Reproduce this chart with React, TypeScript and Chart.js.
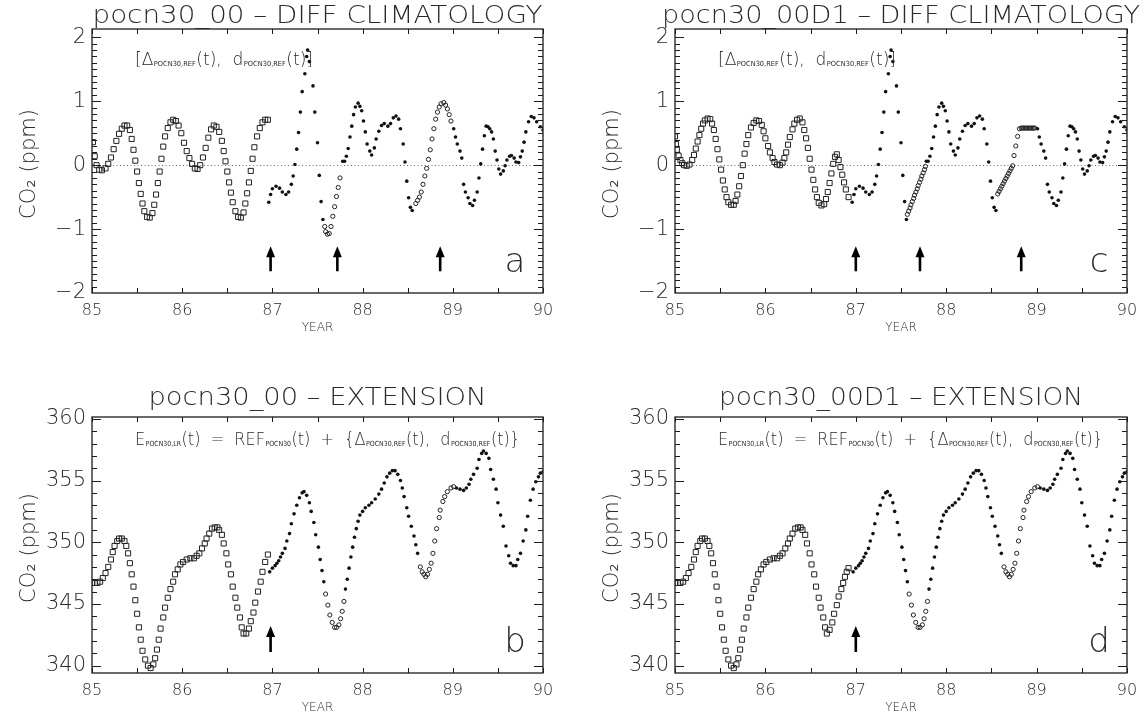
import React, { useEffect, useRef } from "react";
import { Chart, registerables } from "chart.js";
Chart.register(...registerables);

// ---------------- DATA ----------------
// x tick positions / labels
const xTickYears = [85, 85.5, 86, 86.5, 87, 87.5, 88, 88.5, 89, 89.5, 90];
const xLabelYears = [85, 86, 87, 88, 89, 90];
const diffMajorTicks = [-2, -1, 0, 1, 2];
const extMajorTicks = [340, 345, 350, 355, 360];

// Panel a : climatology (squares)
const aSquareYear = [85.01,85.03,85.05,85.08,85.11,85.15,85.18,85.21,85.24,85.27,85.30,85.33,85.36,85.39,85.42,85.44,85.46,85.48,85.50,85.52,85.54,85.56,85.58,85.61,85.64,85.67,85.69,85.71,85.73,85.75,85.77,85.79,85.81,85.84,85.87,85.90,85.93,85.96,85.99,86.02,86.05,86.08,86.11,86.14,86.17,86.20,86.23,86.26,86.29,86.32,86.35,86.38,86.41,86.44,86.46,86.48,86.50,86.52,86.54,86.56,86.59,86.62,86.65,86.68,86.70,86.72,86.74,86.76,86.78,86.80,86.83,86.86,86.89,86.92,86.95];
const aSquareVal = [0.36,0.14,0.0,-0.07,-0.08,-0.05,0.02,0.12,0.25,0.38,0.49,0.57,0.62,0.62,0.55,0.41,0.24,0.07,-0.1,-0.28,-0.45,-0.6,-0.72,-0.81,-0.82,-0.75,-0.62,-0.46,-0.28,-0.1,0.1,0.29,0.45,0.58,0.67,0.71,0.69,0.62,0.5,0.35,0.22,0.11,0.02,-0.05,-0.06,0.0,0.12,0.27,0.43,0.56,0.62,0.6,0.52,0.38,0.22,0.06,-0.1,-0.27,-0.43,-0.58,-0.72,-0.81,-0.82,-0.74,-0.6,-0.44,-0.27,-0.09,0.1,0.28,0.45,0.58,0.67,0.71,0.71];

// Panel c : climatology (squares)
const cSquareYear = [85.00,85.01,85.02,85.04,85.06,85.08,85.10,85.13,85.16,85.19,85.21,85.23,85.25,85.27,85.29,85.31,85.33,85.36,85.39,85.41,85.43,85.45,85.47,85.49,85.51,85.53,85.55,85.57,85.59,85.62,85.65,85.67,85.69,85.71,85.73,85.75,85.77,85.79,85.81,85.84,85.87,85.90,85.93,85.96,85.98,86.00,86.03,86.05,86.08,86.10,86.13,86.16,86.19,86.21,86.23,86.25,86.27,86.30,86.32,86.35,86.38,86.41,86.43,86.45,86.47,86.49,86.51,86.53,86.55,86.57,86.59,86.62,86.65,86.67,86.69,86.71,86.73,86.75,86.77,86.79,86.81,86.83,86.85,86.87,86.89,86.92];
const cSquareVal = [0.45,0.33,0.24,0.15,0.08,0.03,0.0,-0.01,0.01,0.08,0.16,0.26,0.37,0.47,0.57,0.65,0.70,0.73,0.72,0.65,0.55,0.41,0.25,0.09,-0.07,-0.24,-0.38,-0.50,-0.58,-0.62,-0.62,-0.56,-0.46,-0.33,-0.17,0.0,0.18,0.33,0.47,0.59,0.66,0.70,0.69,0.63,0.53,0.42,0.30,0.20,0.11,0.05,0.01,0.0,0.04,0.11,0.20,0.32,0.44,0.56,0.65,0.71,0.73,0.67,0.55,0.42,0.27,0.10,-0.07,-0.23,-0.38,-0.50,-0.59,-0.63,-0.61,-0.53,-0.42,-0.28,-0.13,0.02,0.13,0.17,0.08,-0.03,-0.15,-0.27,-0.38,-0.50];

// Panels a & c : observed differences (filled dots)
const diffDotYear = [86.96,86.98,87.00,87.04,87.08,87.11,87.15,87.18,87.21,87.23,87.25,87.27,87.29,87.31,87.33,87.36,87.38,87.39,87.41,87.45,87.47,87.50,87.52,87.54,87.56,
  87.78,87.80,87.82,87.84,87.86,87.88,87.90,87.92,87.95,87.97,87.99,88.01,88.03,88.05,88.08,88.10,88.13,88.15,88.18,88.21,88.24,88.28,88.31,88.34,88.37,88.40,88.42,88.45,88.47,88.49,88.51,88.53,88.55,
  89.01,89.03,89.05,89.08,89.10,89.12,89.14,89.17,89.19,89.22,89.24,89.27,89.29,89.31,89.33,89.35,89.37,89.39,89.41,89.43,89.45,89.47,89.49,89.51,89.53,89.56,89.58,89.60,89.63,89.65,89.68,89.70,89.73,89.75,89.77,89.79,89.81,89.84,89.87,89.90,89.93,89.97,90.00];
const diffDotVal = [-0.58,-0.46,-0.37,-0.33,-0.36,-0.42,-0.46,-0.42,-0.30,-0.17,0.01,0.25,0.51,0.83,1.15,1.43,1.70,1.80,1.62,1.24,0.83,0.35,-0.16,-0.57,-0.85,
  0.06,0.06,0.14,0.26,0.44,0.61,0.79,0.91,0.97,0.92,0.85,0.69,0.52,0.33,0.22,0.16,0.27,0.41,0.53,0.62,0.65,0.61,0.65,0.74,0.77,0.72,0.57,0.33,0.05,-0.25,-0.51,-0.66,-0.71,
  0.57,0.44,0.33,0.22,0.11,-0.30,-0.42,-0.51,-0.60,-0.63,-0.55,-0.42,-0.20,0.02,0.25,0.46,0.61,0.60,0.57,0.52,0.41,0.22,0.08,-0.06,-0.14,-0.09,-0.01,0.08,0.14,0.15,0.11,0.05,0.04,0.13,0.22,0.36,0.52,0.68,0.76,0.74,0.68,0.60,0.55];

// Panel a : filled gaps (open circles)
const aCircleYear = [87.58,87.59,87.61,87.63,87.65,87.67,87.69,87.71,87.73,87.75,
  88.59,88.61,88.63,88.65,88.67,88.69,88.71,88.73,88.75,88.77,88.79,88.81,88.83,88.85,88.87,88.90,88.92,88.94,88.96,88.98];
const aCircleVal = [-0.96,-1.04,-1.08,-1.07,-0.96,-0.80,-0.65,-0.49,-0.35,-0.20,
  -0.60,-0.55,-0.50,-0.42,-0.30,-0.17,-0.05,0.09,0.24,0.41,0.57,0.72,0.83,0.91,0.96,0.98,0.94,0.88,0.79,0.69];

// Panel c : filled gaps (open circles)
const cCircleYear = [87.57,87.585,87.60,87.61,87.625,87.64,87.65,87.665,87.68,87.69,87.705,87.72,87.73,87.745,87.76,87.77,
  88.57,88.585,88.60,88.615,88.63,88.645,88.66,88.675,88.69,88.705,88.72,88.735,88.75,88.77,88.79,88.81,88.83,88.845,88.86,88.875,88.89,88.905,88.92,88.935,88.95,88.965,88.98];
const cCircleVal = [-0.77,-0.72,-0.67,-0.62,-0.57,-0.52,-0.47,-0.42,-0.37,-0.32,-0.27,-0.22,-0.17,-0.12,-0.07,-0.02,
  -0.45,-0.41,-0.37,-0.33,-0.29,-0.25,-0.21,-0.17,-0.13,-0.09,-0.05,-0.01,0.15,0.30,0.45,0.57,0.58,0.58,0.58,0.58,0.58,0.58,0.58,0.58,0.58,0.58,0.58];

// Panel b : reference + climatology (squares)
const bSquareYear = [85.00,85.03,85.06,85.09,85.12,85.15,85.18,85.21,85.23,85.25,85.28,85.30,85.33,85.36,85.38,85.40,85.42,85.44,85.46,85.48,85.50,85.52,85.54,85.56,85.59,85.62,85.65,85.68,85.70,85.72,85.74,85.76,85.79,85.81,85.84,85.87,85.90,85.92,85.95,85.98,86.01,86.05,86.09,86.13,86.16,86.19,86.22,86.25,86.27,86.30,86.33,86.36,86.39,86.41,86.44,86.46,86.49,86.51,86.54,86.56,86.59,86.61,86.64,86.66,86.68,86.71,86.74,86.76,86.79,86.81,86.84,86.87,86.89,86.92,86.95];
const bSquareVal = [346.7,346.7,346.7,346.8,347.1,347.5,348.0,348.6,349.2,349.7,350.1,350.3,350.3,350.1,349.7,349.1,348.3,347.4,346.4,345.3,344.2,343.1,342.1,341.2,340.5,340.0,339.8,340.1,340.6,341.3,342.1,343.0,343.9,344.7,345.5,346.2,346.8,347.4,347.8,348.2,348.4,348.6,348.7,348.7,348.9,349.1,349.5,349.9,350.3,350.7,351.1,351.2,351.2,351.0,350.6,349.9,349.1,348.2,347.4,346.4,345.5,344.7,343.9,343.1,342.6,342.6,343.0,343.6,344.3,345.1,346.0,346.8,347.6,348.4,349.0];

// Panel d : last months of squares differ from panel b
const dSquareTailYear = [86.71,86.74,86.76,86.79,86.81,86.84,86.86,86.88,86.90,86.92];
const dSquareTailVal = [342.9,343.5,344.2,344.9,345.6,346.2,346.7,347.2,347.6,347.9];

// Panels b & d : extension with observed differences (dots)
const extDotYear = [86.97,87.00,87.03,87.05,87.07,87.09,87.11,87.14,87.16,87.19,87.21,87.24,87.27,87.30,87.33,87.35,87.38,87.41,87.43,87.46,87.48,87.51,87.53,87.55,87.57,
  87.81,87.83,87.85,87.87,87.89,87.91,87.93,87.95,87.97,88.00,88.03,88.07,88.10,88.14,88.18,88.21,88.24,88.27,88.30,88.33,88.36,88.39,88.42,88.44,88.46,88.49,88.51,88.54,88.57,88.59,88.61,
  89.04,89.08,89.12,89.15,89.18,89.20,89.23,89.27,89.29,89.32,89.34,89.37,89.40,89.42,89.45,89.48,89.50,89.53,89.56,89.59,89.62,89.64,89.67,89.70,89.72,89.75,89.78,89.81,89.83,89.86,89.89,89.92,89.95,89.97,90.00];
const extDotVal = [347.6,347.9,348.1,348.3,348.5,348.8,349.1,349.5,350.1,350.7,351.5,352.3,353.0,353.6,354.0,354.1,353.8,353.2,352.5,351.6,350.6,349.6,348.6,347.7,346.8,
  346.2,347.0,347.9,348.8,349.6,350.4,351.1,351.7,352.2,352.5,352.8,353.0,353.2,353.5,353.9,354.3,354.8,355.3,355.6,355.8,355.8,355.5,355.0,354.4,353.7,352.8,352.1,351.3,350.5,349.8,349.1,
  354.4,354.3,354.2,354.4,354.7,355.1,355.5,356.0,356.7,357.2,357.4,357.2,356.8,355.9,355.1,354.3,353.2,352.2,351.3,349.7,348.9,348.3,348.1,348.1,348.6,349.1,350.1,351.0,352.1,353.4,354.3,354.9,355.3,355.6,355.7];

// Panels b & d : extension over gaps (open circles)
const extCircleYear = [87.59,87.615,87.637,87.663,87.689,87.711,87.737,87.756,87.774,87.793,
  88.64,88.66,88.68,88.70,88.72,88.74,88.76,88.78,88.80,88.82,88.85,88.86,88.89,88.91,88.94,88.98,89.01];
const extCircleVal = [345.8,344.9,344.1,343.5,343.1,343.1,343.3,343.8,344.4,345.2,
  348.0,347.6,347.4,347.2,347.4,347.8,348.3,349.1,350.1,351.1,352.0,352.6,353.3,353.7,354.1,354.4,354.5];

// Arrow years (annotations)
const aArrowYears = [86.98, 87.72, 88.86];
const cArrowYears = [87.0, 87.71, 88.83];
const bArrowYears = [86.98];
const dArrowYears = [87.0];

// ---------------- RENDERING ----------------
const FONT = "'DejaVu Sans', 'Liberation Sans', sans-serif";
const INK = "#1c1c1c";
const TEXT = "#2a2a2a";

function pts(t: number[], v: number[]) {
  const n = Math.min(t.length, v.length);
  const out: { x: number; y: number }[] = [];
  for (let i = 0; i < n; i++) out.push({ x: t[i], y: v[i] });
  return out;
}

type Part = { s: string; sub?: boolean };

function drawRich(ctx: CanvasRenderingContext2D, parts: Part[], x: number, baseline: number, width: number, main: number, sub: number) {
  ctx.save();
  const fMain = `200 ${main}px ${FONT}`;
  const fSub = `400 ${sub}px ${FONT}`;
  let total = 0;
  const ws = parts.map((p) => {
    ctx.font = p.sub ? fSub : fMain;
    const w = ctx.measureText(p.s).width + (p.sub ? 1 : 0);
    total += w;
    return w;
  });
  const k = width / total;
  ctx.translate(x, baseline);
  ctx.scale(k, 1);
  ctx.fillStyle = TEXT;
  ctx.textBaseline = "alphabetic";
  ctx.textAlign = "left";
  let cx = 0;
  parts.forEach((p, i) => {
    ctx.font = p.sub ? fSub : fMain;
    ctx.fillText(p.s, cx + (p.sub ? 0.5 : 0), p.sub ? 1 : 0);
    cx += ws[i];
  });
  ctx.restore();
}

function fitText(ctx: CanvasRenderingContext2D, text: string, cx: number, baseline: number, width: number, font: string) {
  ctx.save();
  ctx.font = font;
  const w = ctx.measureText(text).width;
  ctx.translate(cx, baseline);
  ctx.scale(width / w, 1);
  ctx.textAlign = "center";
  ctx.textBaseline = "alphabetic";
  ctx.fillStyle = TEXT;
  ctx.fillText(text, 0, 0);
  ctx.restore();
}

const diffAnno: Part[] = [
  { s: "[Δ" }, { s: "POCN30,REF", sub: true }, { s: "(t),  d" }, { s: "POCN30,REF", sub: true }, { s: "(t)]" },
];
const extAnno: Part[] = [
  { s: "E" }, { s: "POCN30,LR", sub: true }, { s: "(t)  =  REF" }, { s: "POCN30", sub: true }, { s: "(t)  +  {Δ" },
  { s: "POCN30,REF", sub: true }, { s: "(t),  d" }, { s: "POCN30,REF", sub: true }, { s: "(t)}" },
];

type Cfg = {
  title: string;
  titleWidth: number;
  titleBaseline: number;
  kind: "diff" | "ext";
  letter: string;
  arrows: number[];
  arrowFrom: number;
  arrowTo: number;
  anno: Part[];
  annoWidth: number;
};

function makeDecor(cfg: Cfg) {
  return {
    id: "decor",
    beforeDatasetsDraw(chart: any) {
      if (cfg.kind !== "diff") return;
      const { ctx, chartArea: a, scales } = chart;
      const y = Math.round(scales.y.getPixelForValue(0)) + 0.5;
      ctx.save();
      ctx.strokeStyle = "#666";
      ctx.lineWidth = 1;
      ctx.setLineDash([1, 2.5]);
      ctx.beginPath();
      ctx.moveTo(a.left, y);
      ctx.lineTo(a.right, y);
      ctx.stroke();
      ctx.restore();
    },
    afterDraw(chart: any) {
      const { ctx, chartArea: a, scales } = chart;
      const xs = scales.x;
      const ys = scales.y;
      ctx.save();
      // frame
      ctx.strokeStyle = INK;
      ctx.lineWidth = 1.3;
      ctx.strokeRect(a.left, a.top, a.right - a.left, a.bottom - a.top);
      ctx.lineWidth = 1;
      // x ticks (inward, top and bottom)
      ctx.beginPath();
      xTickYears.forEach((t) => {
        const px = Math.round(xs.getPixelForValue(t)) + 0.5;
        ctx.moveTo(px, a.bottom);
        ctx.lineTo(px, a.bottom - 5);
        ctx.moveTo(px, a.top);
        ctx.lineTo(px, a.top + 5);
      });
      // y ticks
      const majors = cfg.kind === "diff" ? diffMajorTicks : extMajorTicks;
      const minorStep = cfg.kind === "diff" ? 0.1 : 1;
      const lo = majors[0];
      const hi = majors[majors.length - 1];
      const nMinor = Math.round((hi - lo) / minorStep);
      for (let i = 0; i <= nMinor; i++) {
        const v = lo + i * minorStep;
        const isMajor = majors.some((m) => Math.abs(m - v) < 1e-6);
        const len = isMajor ? 9 : 5;
        const py = Math.round(ys.getPixelForValue(v)) + 0.5;
        if (py < a.top || py > a.bottom) continue;
        ctx.moveTo(a.left, py);
        ctx.lineTo(a.left + len, py);
        ctx.moveTo(a.right, py);
        ctx.lineTo(a.right - len, py);
      }
      ctx.stroke();

      // tick labels
      ctx.fillStyle = TEXT;
      ctx.font = `200 16px ${FONT}`;
      ctx.textAlign = "center";
      ctx.textBaseline = "middle";
      xLabelYears.forEach((t) => {
        ctx.fillText(String(t), xs.getPixelForValue(t), a.bottom + 18);
      });
      ctx.font = `200 12px ${FONT}`;
      ctx.fillText("YEAR", (a.left + a.right) / 2, a.bottom + 35);

      ctx.font = `200 21px ${FONT}`;
      ctx.textAlign = "right";
      majors.forEach((m) => {
        const lab = m < 0 ? "\u2212" + Math.abs(m) : String(m);
        const py = ys.getPixelForValue(m);
        ctx.fillText(lab, a.left - 6, py);
      });

      // y axis title
      ctx.save();
      ctx.translate(30, (a.top + a.bottom) / 2 + 3);
      ctx.rotate(-Math.PI / 2);
      ctx.font = `200 21px ${FONT}`;
      ctx.textAlign = "center";
      ctx.textBaseline = "middle";
      ctx.fillText("CO\u2082 (ppm)", 0, 0);
      ctx.restore();

      // title
      fitText(ctx, cfg.title, (a.left + a.right) / 2, cfg.titleBaseline, cfg.titleWidth, `200 24px ${FONT}`);

      // annotation formula
      if (cfg.kind === "diff") drawRich(ctx, cfg.anno, a.left + 43, a.top + 36, cfg.annoWidth, 18, 7);
      else drawRich(ctx, cfg.anno, a.left + 43, a.top + 28, cfg.annoWidth, 18, 7);

      // arrows
      ctx.fillStyle = "#000";
      ctx.strokeStyle = "#000";
      cfg.arrows.forEach((t) => {
        const px = xs.getPixelForValue(t);
        const y1 = ys.getPixelForValue(cfg.arrowFrom);
        const y2 = ys.getPixelForValue(cfg.arrowTo);
        ctx.lineWidth = 2.6;
        ctx.beginPath();
        ctx.moveTo(px, y1);
        ctx.lineTo(px, y2 + 8);
        ctx.stroke();
        ctx.beginPath();
        ctx.moveTo(px, y2);
        ctx.lineTo(px - 4.5, y2 + 11);
        ctx.lineTo(px + 4.5, y2 + 11);
        ctx.closePath();
        ctx.fill();
      });

      // panel letter
      ctx.fillStyle = TEXT;
      ctx.font = `200 34px ${FONT}`;
      ctx.textAlign = "center";
      ctx.textBaseline = "alphabetic";
      ctx.fillText(cfg.letter, a.right - 28, a.bottom - 21);
      ctx.restore();
    },
  };
}

type PanelProps = {
  left: number;
  top: number;
  width: number;
  height: number;
  padding: { left: number; top: number; right: number; bottom: number };
  yMin: number;
  yMax: number;
  squares: { x: number; y: number }[];
  circles: { x: number; y: number }[];
  dots: { x: number; y: number }[];
  cfg: Cfg;
};

function Panel(p: PanelProps) {
  const ref = useRef<HTMLCanvasElement>(null);
  useEffect(() => {
    if (!ref.current) return;
    const chart = new Chart(ref.current, {
      type: "scatter",
      data: {
        datasets: [
          {
            label: "climatology",
            data: p.squares,
            pointStyle: "rect",
            pointRadius: 3.6,
            borderWidth: 1,
            borderColor: "#222",
            backgroundColor: "rgba(0,0,0,0)",
            showLine: false,
          },
          {
            label: "gap",
            data: p.circles,
            pointStyle: "circle",
            pointRadius: 2.1,
            borderWidth: 1,
            borderColor: "#222",
            backgroundColor: "rgba(255,255,255,0)",
            showLine: false,
          },
          {
            label: "data",
            data: p.dots,
            pointStyle: "circle",
            pointRadius: 1.8,
            borderWidth: 0,
            borderColor: "#000",
            backgroundColor: "#111",
            showLine: false,
          },
        ],
      },
      options: {
        animation: false,
        responsive: false,
        devicePixelRatio: 1,
        layout: { padding: p.padding },
        events: [],
        plugins: { legend: { display: false }, title: { display: false }, tooltip: { enabled: false } },
        scales: {
          x: { type: "linear", min: 85, max: 90, display: false },
          y: { type: "linear", min: p.yMin, max: p.yMax, display: false },
        },
      },
      plugins: [makeDecor(p.cfg)],
    });
    return () => chart.destroy();
  }, []);
  return (
    <canvas
      ref={ref}
      width={p.width}
      height={p.height}
      style={{ position: "absolute", left: p.left, top: p.top, width: p.width, height: p.height }}
    />
  );
}

export default function App() {
  const diffDots = pts(diffDotYear, diffDotVal);
  const extDots = pts(extDotYear, extDotVal);
  const extCircles = pts(extCircleYear, extCircleVal);
  const bSquares = pts(bSquareYear, bSquareVal);
  const dSquares = bSquares.filter((q) => q.x <= 86.68).concat(pts(dSquareTailYear, dSquareTailVal));

  const topPad = { left: 92, top: 29, bottom: 62 };
  const botPad = { left: 92, top: 57, bottom: 46 };

  return (
    <div style={{ position: "fixed", left: 0, top: 0, width: 1147, height: 719, background: "#fff", overflow: "hidden" }}>
      <Panel
        left={0} top={0} width={573} height={355}
        padding={{ ...topPad, right: 30 }}
        yMin={-2} yMax={2.13}
        squares={pts(aSquareYear, aSquareVal)}
        circles={pts(aCircleYear, aCircleVal)}
        dots={diffDots}
        cfg={{ title: "pocn30_00 – DIFF CLIMATOLOGY", titleWidth: 450, titleBaseline: 23, kind: "diff", letter: "a", arrows: aArrowYears, arrowFrom: -1.66, arrowTo: -1.27, anno: diffAnno, annoWidth: 178 }}
      />
      <Panel
        left={583} top={0} width={564} height={355}
        padding={{ ...topPad, right: 20 }}
        yMin={-2} yMax={2.13}
        squares={pts(cSquareYear, cSquareVal)}
        circles={pts(cCircleYear, cCircleVal)}
        dots={diffDots}
        cfg={{ title: "pocn30_00D1 – DIFF CLIMATOLOGY", titleWidth: 478, titleBaseline: 23, kind: "diff", letter: "c", arrows: cArrowYears, arrowFrom: -1.66, arrowTo: -1.27, anno: diffAnno, annoWidth: 178 }}
      />
      <Panel
        left={0} top={360} width={573} height={359}
        padding={{ ...botPad, right: 30 }}
        yMin={339.4} yMax={360.15}
        squares={bSquares}
        circles={extCircles}
        dots={extDots}
        cfg={{ title: "pocn30_00 – EXTENSION", titleWidth: 338, titleBaseline: 45, kind: "ext", letter: "b", arrows: bArrowYears, arrowFrom: 341.1, arrowTo: 343.2, anno: extAnno, annoWidth: 385 }}
      />
      <Panel
        left={583} top={360} width={564} height={359}
        padding={{ ...botPad, right: 20 }}
        yMin={339.4} yMax={360.15}
        squares={dSquares}
        circles={extCircles}
        dots={extDots}
        cfg={{ title: "pocn30_00D1 – EXTENSION", titleWidth: 364, titleBaseline: 45, kind: "ext", letter: "d", arrows: dArrowYears, arrowFrom: 341.1, arrowTo: 343.2, anno: extAnno, annoWidth: 385 }}
      />
    </div>
  );
}
